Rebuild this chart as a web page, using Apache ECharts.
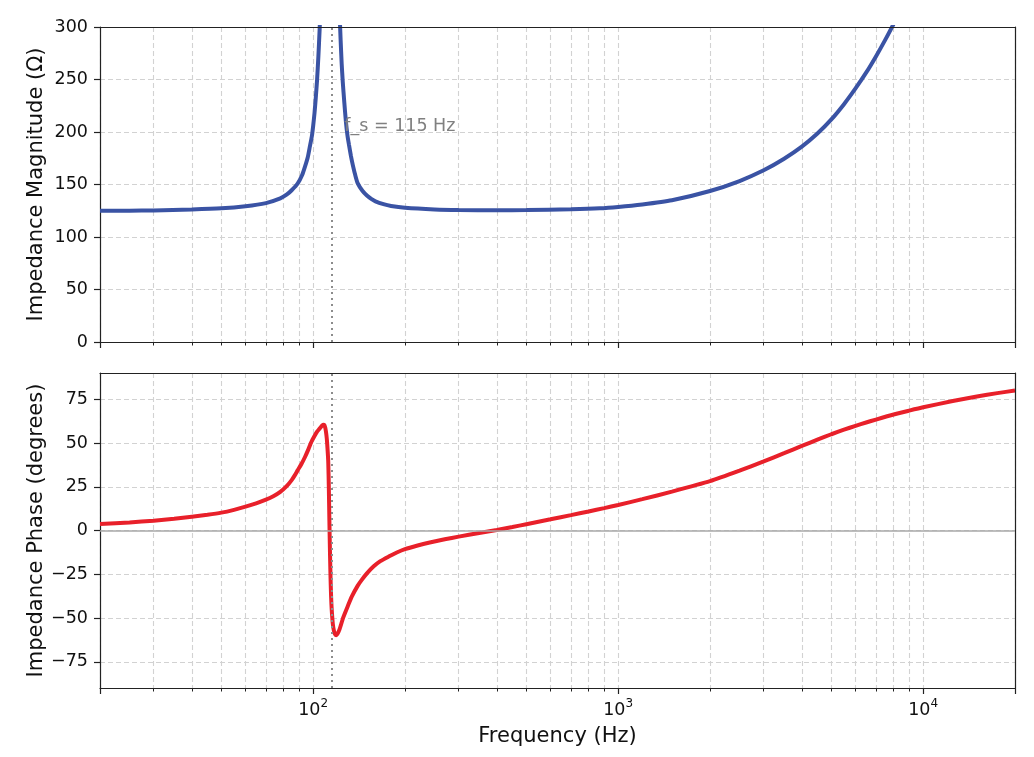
<!DOCTYPE html>
<html>
<head>
<meta charset="utf-8">
<title>Impedance</title>
<script src="https://cdn.jsdelivr.net/npm/echarts@6/dist/echarts.min.js"></script>
<style>
  html, body { margin: 0; padding: 0; background: #fff; }
  #chart { width: 1034px; height: 757px; }
</style>
</head>
<body>
<div id="chart"></div>
<script>
// impedance magnitude (Hz, ohm)
var magFreq = [20, 25, 30, 40, 50, 60, 70, 78, 82, 85, 89, 92, 94, 96, 97.5, 99, 100, 101, 102, 103,
  104, 105, 106, 108, 110, 112, 113.5, 115, 117, 119, 121, 122, 123, 124, 125, 126.5, 128, 129.5, 131, 133,
  135, 137.5, 140, 145, 150, 155, 160, 170, 180, 200, 250, 300, 400, 500, 700, 870, 1000, 1200, 1500, 2000,
  2500, 3000, 3500, 4000, 4500, 5000, 5500, 6000, 6500, 7000, 7500, 8000, 9000, 10000, 15000, 20000];
var magOhm = [125, 125.1, 125.3, 126.2, 127.3, 129.3, 132.3, 136.8, 140.5, 144.5, 151, 159, 167, 176, 186, 196, 206, 218, 233, 250,
  272, 298, 331, 435, 644, 1180, 1738, 1185, 658, 450, 347, 315, 288, 265, 248, 228, 210, 197, 188, 177,
  168, 158.5, 151, 144, 139.5, 136.3, 134, 131.3, 129.6, 127.9, 126.3, 125.7, 125.4, 125.6, 126.4, 127.3, 128.6, 131, 135, 143.8,
  153.3, 163.5, 174.5, 186, 198.5, 212, 226.5, 241.5, 256.5, 272, 287.5, 303, 334, 366, 525, 691];

// impedance phase (Hz, degrees)
var phaseFreq = [20, 25, 30, 35, 40, 45, 50, 55, 60, 65, 70, 74, 78, 82, 85, 87, 89, 91.5, 94, 96.5,
  98.7, 101, 103, 104.4, 106, 107, 108, 108.8, 109.5, 110, 110.5, 111, 112, 112.5, 113, 113.5, 114, 114.5, 115, 116,
  117, 118, 119, 120, 122, 125.6, 130, 133.8, 140, 144.3, 150, 157.6, 166, 176.8, 188, 200, 220, 239, 270, 300,
  350, 400, 450, 500, 600, 700, 800, 900, 1000, 1200, 1500, 2000, 2500, 3000, 3500, 4000, 4500, 5000, 5500, 6000,
  6500, 7000, 8000, 9000, 10000, 12500, 15000, 17500, 20000];
var phaseDeg = [3.7, 4.6, 5.6, 6.7, 7.9, 9, 10.2, 11.8, 13.6, 15.5, 17.6, 19.6, 22.1, 25.5, 28.8, 31.5, 34.5, 38, 42, 46.5,
  50.7, 54, 56.5, 57.7, 59.2, 60, 60.5, 60.3, 58.8, 57, 54.5, 51, 40, 26, 6, -12, -27, -38, -45, -53.5,
  -57.5, -59.3, -59.8, -59.2, -56.5, -49.5, -43, -37.8, -31.5, -28.2, -24.5, -20.6, -17.5, -14.9, -12.6, -10.7, -8.6, -7, -5, -3.5,
  -1.4, 0.3, 2, 3.6, 6.4, 8.8, 10.9, 12.8, 14.6, 17.9, 22.2, 28.2, 34.2, 39.5, 44.2, 48.3, 51.9, 55, 57.6, 59.8,
  61.7, 63.4, 66.3, 68.5, 70.4, 74, 76.6, 78.5, 80];

var resonanceHz = 115;
var resonanceText = 'f_s = 115 Hz';
var resonanceTextAt = [126.5, 200];
var phaseTicks = [-75, -50, -25, 0, 25, 50, 75];

var FONT = 'DejaVu Sans';
var INK = '#111';
var SPINE = { color: '#222', width: 1.2 };
var gridLine = { color: '#d2d2d2', type: [5, 3], width: 1.1 };

function pairs(xs, ys) {
  return xs.map(function (x, i) { return [x, ys[i]]; });
}

// 10^n labels only at the decades
function decadeLabel(v) {
  var e = Math.round(Math.log10(v));
  if (Math.abs(v - Math.pow(10, e)) > 1e-6 * v) return '';
  return '{b|10}{s|' + e + '}';
}

function minusLabel(v) {
  return v < 0 ? '\u2212' + Math.abs(v) : String(v);
}

function freqAxis(gridIndex, withLabels) {
  return {
    type: 'log',
    logBase: 10,
    gridIndex: gridIndex,
    min: 20,
    max: 20000,
    name: withLabels ? 'Frequency (Hz)' : '',
    nameLocation: 'middle',
    nameGap: 38,
    nameMoveOverlap: false,
    nameTextStyle: { fontFamily: FONT, fontSize: 21, color: INK },
    axisLine: { show: true, onZero: false, lineStyle: SPINE },
    axisTick: { show: true, length: 6, lineStyle: SPINE },
    minorTick: { show: true, splitNumber: 9, length: 3.5, lineStyle: { color: '#222', width: 1 } },
    splitLine: { show: true, lineStyle: gridLine },
    minorSplitLine: { show: true, lineStyle: gridLine },
    axisLabel: {
      show: withLabels,
      margin: 10,
      formatter: decadeLabel,
      rich: {
        b: { fontFamily: FONT, fontSize: 17.5, color: INK },
        s: { fontFamily: FONT, fontSize: 12, color: INK, padding: [0, 0, 12, 0] }
      }
    }
  };
}

// plain spine for the top and right edges of a panel
function edgeX(gridIndex) {
  return {
    type: 'log', logBase: 10, gridIndex: gridIndex, min: 20, max: 20000, position: 'top', z: 4,
    axisLine: { show: true, onZero: false, lineStyle: SPINE },
    axisTick: { show: false }, axisLabel: { show: false }, splitLine: { show: false }
  };
}
function edgeY(gridIndex, min, max) {
  return {
    type: 'value', gridIndex: gridIndex, min: min, max: max, position: 'right', z: 4,
    axisLine: { show: true, onZero: false, lineStyle: SPINE },
    axisTick: { show: false }, axisLabel: { show: false }, splitLine: { show: false }
  };
}

function valueAxis(gridIndex, name, extra) {
  var ax = {
    type: 'value',
    gridIndex: gridIndex,
    name: name,
    nameLocation: 'middle',
    nameGap: 53,
    nameMoveOverlap: false,
    nameTextStyle: { fontFamily: FONT, fontSize: 21, color: INK },
    axisLine: { show: true, onZero: false, lineStyle: SPINE },
    axisTick: { show: true, length: 6, lineStyle: SPINE },
    axisLabel: { margin: 12, fontFamily: FONT, fontSize: 17.5, color: INK, formatter: minusLabel },
    splitLine: { show: true, lineStyle: gridLine }
  };
  for (var k in extra) {
    if (typeof extra[k] === 'object' && ax[k]) Object.assign(ax[k], extra[k]);
    else ax[k] = extra[k];
  }
  return ax;
}

var dottedMark = { color: '#8c8c8c', type: [2, 4], width: 2 };

var chart = echarts.init(document.getElementById('chart'), null, { renderer: 'canvas' });
chart.setOption({
  backgroundColor: '#fff',
  animation: false,
  grid: [
    { left: 100, right: 19, top: 27, height: 315 },
    { left: 100, right: 19, top: 373, height: 315 }
  ],
  xAxis: [freqAxis(0, false), freqAxis(1, true), edgeX(0), edgeX(1)],
  yAxis: [
    valueAxis(0, 'Impedance Magnitude (Ω)', { min: 0, max: 300, interval: 50 }),
    valueAxis(1, 'Impedance Phase (degrees)', {
      min: -90, max: 90,
      axisLabel: { customValues: phaseTicks },
      axisTick: { customValues: phaseTicks }
    }),
    edgeY(0, 0, 300),
    edgeY(1, -90, 90)
  ],
  series: [
    {
      name: 'magnitude',
      type: 'line',
      xAxisIndex: 0,
      yAxisIndex: 0,
      data: pairs(magFreq, magOhm),
      showSymbol: false,
      symbol: 'none',
      smooth: 0.2,
      clip: true,
      lineStyle: { color: '#3a53a4', width: 4 },
      z: 3,
      markLine: {
        silent: true,
        symbol: 'none',
        label: { show: false },
        data: [{ xAxis: resonanceHz, lineStyle: dottedMark }]
      },
      markPoint: {
        silent: true,
        symbol: 'circle',
        symbolSize: 0,
        data: [{ coord: resonanceTextAt, value: 0 }],
        label: {
          show: true,
          position: 'right',
          distance: 0,
          offset: [0, -6],
          formatter: resonanceText,
          fontFamily: FONT,
          fontSize: 17.5,
          color: '#808080'
        }
      }
    },
    {
      name: 'phase',
      type: 'line',
      xAxisIndex: 1,
      yAxisIndex: 1,
      data: pairs(phaseFreq, phaseDeg),
      showSymbol: false,
      symbol: 'none',
      smooth: 0.2,
      clip: true,
      lineStyle: { color: '#e8202a', width: 4 },
      z: 3,
      markLine: {
        silent: true,
        symbol: 'none',
        label: { show: false },
        data: [
          { yAxis: 0, lineStyle: { color: '#a8a8a8', type: 'solid', width: 1.6 } },
          { xAxis: resonanceHz, lineStyle: dottedMark }
        ]
      }
    }
  ]
});
</script>
</body>
</html>
